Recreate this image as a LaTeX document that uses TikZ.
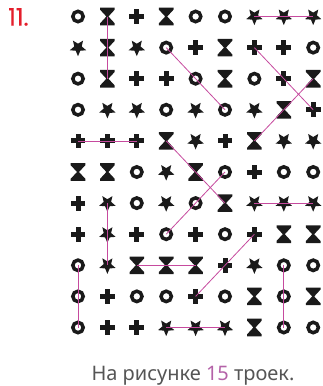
\documentclass[tikz,border=0pt]{standalone}
\usepackage{fontspec}
\newfontfamily\numfont[FakeBold=0.6]{Poppins}
\newfontfamily\capfont{Noto Sans}
\definecolor{ink}{HTML}{1A1A1A}
\definecolor{link}{HTML}{C64A9E}
\definecolor{numred}{HTML}{E41E2B}
\definecolor{capgray}{HTML}{555555}
\definecolor{capmag}{HTML}{B462A8}
\tikzset{
  x=1pt, y=-1pt,
  linkline/.style={draw=link, line width=0.8pt},
  pics/symo/.style={code={\draw[ink, line width=3.5pt] (0,0) circle [radius=5.2pt];}},
  pics/symp/.style={code={\fill[ink] (-7.4,-2.5) rectangle (7.4,2.5); \fill[ink] (-2.5,-7.4) rectangle (2.5,7.4);}},
  pics/symx/.style={code={\fill[ink] (-7.3,-8.8) -- (7.3,-8.8) -- (7.3,-6.8) -- (1.0,0) -- (7.3,6.8) -- (7.3,8.8) -- (-7.3,8.8) -- (-7.3,6.8) -- (-1.0,0) -- (-7.3,-6.8) -- cycle;}},
  pics/syms/.style={code={\fill[ink] (90:8.6) \foreach \a in {1,...,4} {-- (90+72*\a-36:3.9) -- (90+72*\a:8.6)} -- (90+72*5-36:3.9) -- cycle;}},
}
\begin{document}
\begin{tikzpicture}
\useasboundingbox (0,0) rectangle (323,386);
\node[text=numred, font=\numfont\fontsize{24}{24}\selectfont, anchor=west, inner sep=0] (num) at (8,17) {11.};
\foreach \lst [count=\r] in {{o,x,p,x,o,o,s,s,s},{s,x,s,o,p,x,p,p,o},{o,x,p,p,o,x,o,p,x},{o,s,s,o,s,o,s,x,p},{p,p,p,x,s,p,x,s,s},{x,x,o,s,x,o,p,o,o},{p,s,o,s,o,x,s,s,s},{p,s,p,o,p,o,p,x,x},{o,s,x,x,x,p,s,o,o},{o,p,o,o,p,o,x,o,x},{o,p,p,s,s,s,x,o,o}} {
  \foreach \s [count=\c] in \lst {
    \coordinate (r\r-\c) at ({78+29.4*(\c-1)},{16.5+31.1*(\r-1)});
    \pic at (r\r-\c) {sym\s};
  }
}
\draw[linkline] (r1-7) -- (r1-9);
\draw[linkline] (r1-2) -- (r3-2);
\draw[linkline] (r2-4) -- (r4-6);
\draw[linkline] (r2-7) -- (r4-9);
\draw[linkline] (r3-9) -- (r5-7);
\draw[linkline] (r5-1) -- (r5-3);
\draw[linkline] (r5-4) -- (r7-6);
\draw[linkline] (r6-6) -- (r8-4);
\draw[linkline] (r7-7) -- (r7-9);
\draw[linkline] (r7-2) -- (r9-2);
\draw[linkline] (r9-3) -- (r9-5);
\draw[linkline] (r8-7) -- (r10-5);
\draw[linkline] (r9-1) -- (r11-1);
\draw[linkline] (r9-8) -- (r11-8);
\draw[linkline] (r11-4) -- (r11-6);
\node[text=capgray, font=\capfont\fontsize{20}{20}\selectfont, anchor=base, inner sep=0] (cap) at (193,380) {На рисунке \textcolor{capmag}{15} троек.};
\end{tikzpicture}
\end{document}
